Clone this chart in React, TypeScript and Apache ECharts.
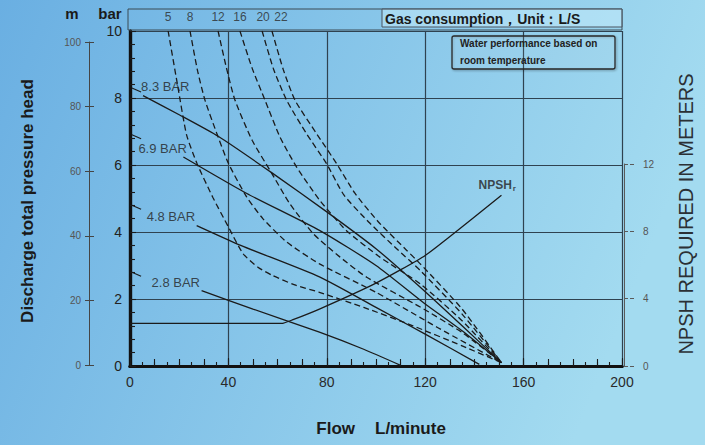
import React, { useEffect, useRef } from 'react';
import * as echarts from 'echarts';

// ---------- data ----------
const airLabels = ['5', '8', '12', '16', '20', '22'];
const pressureLabels = ['8.3 BAR', '6.9 BAR', '4.8 BAR', '2.8 BAR'];
const pressureValues = [8.3, 6.9, 4.8, 2.8];

// pressure curves: [flow L/min, head bar]
const p83 = [[5.3, 8.07], [20, 7.5], [36, 6.85], [58, 5.75], [80, 4.6], [100, 3.5], [118, 2.35], [135, 1.2], [151, 0.1]];
const p69 = [[21.7, 6.24], [47.5, 5.15], [77, 4.05], [100, 3.0], [120, 1.85], [135, 1.05], [151, 0.1]];
const p48 = [[27.1, 4.19], [45, 3.6], [77, 2.66], [100, 1.75], [120, 0.95], [142, 0.05]];
const p28 = [[29.1, 2.25], [50, 1.7], [77, 1.01], [95, 0.5], [110, 0.02]];

// air consumption curves (L/S): [flow L/min, head bar]
const air5 = [[15.5, 10], [19.3, 8.4], [23, 6.9], [27.2, 6.05], [33.7, 5.03], [40, 4.15], [46, 3.35], [52, 2.95], [58, 2.7], [67, 2.42], [77, 2.2], [95, 1.75], [115, 1.2], [135, 0.6], [151, 0.1]];
const air8 = [[24.4, 10], [27.5, 8.8], [30.5, 7.93], [35, 7.0], [40, 6.05], [47.4, 5.05], [54, 4.4], [63.7, 3.7], [77, 3.05], [100, 2.2], [125, 1.15], [151, 0.1]];
const air12 = [[35.8, 10], [39.2, 8.9], [42.7, 7.93], [49.7, 6.73], [57, 5.83], [65, 4.84], [74.5, 3.95], [85.4, 3.25], [96.2, 2.65], [118, 1.76], [135, 1.0], [151, 0.1]];
const air16 = [[44.7, 10], [49.6, 8.9], [54.9, 7.93], [61, 6.83], [67.8, 5.93], [77.2, 4.94], [88, 4.04], [101.6, 3.25], [118, 2.45], [135, 1.35], [151, 0.1]];
const air20 = [[53.7, 10], [58.4, 8.85], [63.7, 7.93], [71.8, 6.93], [79.9, 6.04], [87, 5.1], [97, 4.3], [108.4, 3.5], [118, 2.85], [135, 1.55], [151, 0.1]];
const air22 = [[57.7, 10], [62.3, 8.85], [67.1, 7.93], [75.9, 6.93], [84, 6.04], [91.5, 5.15], [101, 4.3], [112.5, 3.45], [118, 3.05], [135, 1.7], [151, 0.1]];

// NPSH required: [flow L/min, metres]
const npshR = [[0, 2.55], [62, 2.55], [66, 2.75], [77, 3.4], [100, 4.95], [120, 6.6], [151, 10.2]];

// ---------- styles ----------
const pressureLabelOffsets = [[-2, -9], [-45, -8], [-50, -9], [-50, -8]];
const airLabelOffsets = [[0, -14], [0, -14], [0, -14], [0, -14], [1, -14], [9, -14]];
const INK = '#1b1b1b';
const GRID = '#2f4250';
const NARROW = '"Liberation Sans Narrow", "Liberation Sans", Arial, sans-serif';
const SANS = '"Liberation Sans", Arial, sans-serif';

const pressureSeries = [p83, p69, p48, p28];
const airSeries = [air5, air8, air12, air16, air20, air22];

export default function App() {
  const ref = useRef<HTMLDivElement>(null);

  useEffect(() => {
    if (!ref.current) return;
    const chart = echarts.init(ref.current, undefined, { renderer: 'svg' });

    const series: any[] = [];
    pressureSeries.forEach((d, i) => {
      series.push({
        name: pressureLabels[i],
        type: 'line',
        data: d,
        xAxisIndex: 0,
        yAxisIndex: 0,
        symbol: 'none',
        smooth: 0.2,
        lineStyle: { color: INK, width: 1.3 },
        silent: true,
        z: 4,
      });
    });
    airSeries.forEach((d, i) => {
      series.push({
        name: airLabels[i] + ' L/S',
        type: 'line',
        data: d,
        xAxisIndex: 0,
        yAxisIndex: 0,
        symbol: 'none',
        smooth: 0.2,
        lineStyle: { color: INK, width: 1.3, type: [6, 3.5] },
        silent: true,
        z: 4,
      });
    });
    series.push({
      name: 'NPSHr',
      type: 'line',
      data: npshR,
      xAxisIndex: 0,
      yAxisIndex: 2,
      symbol: 'none',
      smooth: 0.15,
      lineStyle: { color: INK, width: 1.3 },
      silent: true,
      z: 4,
    });
    // short leaders at the left axis for the pressure labels
    pressureValues.forEach((p) => {
      series.push({
        type: 'line',
        data: [[0.8, p], [4.5, p - 0.12]],
        xAxisIndex: 0,
        yAxisIndex: 0,
        symbol: 'none',
        lineStyle: { color: INK, width: 1.1 },
        silent: true,
        z: 4,
      });
    });
    // pressure labels
    series.push({
      type: 'scatter',
      xAxisIndex: 0,
      yAxisIndex: 0,
      symbolSize: 0,
      clip: false,
      silent: true,
      data: pressureSeries.map((d, i) => ({ value: d[0], label: { offset: pressureLabelOffsets[i] } })),
      label: {
        show: true,
        position: 'inside',
        align: 'left',
        verticalAlign: 'middle',
        formatter: (p: any) => pressureLabels[p.dataIndex],
        fontFamily: NARROW,
        fontSize: 13,
        color: '#222',
      },
      z: 5,
    });
    // air consumption labels on top strip
    series.push({
      type: 'scatter',
      xAxisIndex: 0,
      yAxisIndex: 0,
      symbolSize: 0,
      clip: false,
      silent: true,
      data: airSeries.map((d, i) => ({ value: d[0], label: { offset: airLabelOffsets[i] } })),
      label: {
        show: true,
        position: 'inside',
        align: 'center',
        verticalAlign: 'middle',
        formatter: (p: any) => airLabels[p.dataIndex],
        fontFamily: NARROW,
        fontSize: 12,
        color: '#2a2a2a',
      },
      z: 5,
    });
    // NPSHr label
    series.push({
      type: 'scatter',
      xAxisIndex: 0,
      yAxisIndex: 2,
      symbolSize: 0,
      clip: false,
      silent: true,
      data: [{ value: npshR[npshR.length - 1], label: { offset: [-23, -10] } }],
      label: {
        show: true,
        position: 'inside',
        align: 'left',
        verticalAlign: 'middle',
        formatter: '{a|NPSH}{b|r}',
        rich: {
          a: { fontFamily: NARROW, fontWeight: 'bold', fontSize: 12, color: '#222' },
          b: { fontFamily: NARROW, fontWeight: 'bold', fontSize: 8, color: '#222', padding: [6, 0, 0, 1] },
        },
      },
      z: 5,
    });

    const thick = { show: true, lineStyle: { color: '#111', width: 3.2 } };

    chart.setOption({
      animation: false,
      backgroundColor: new echarts.graphic.LinearGradient(0, 0, 1, 0.25, [
        { offset: 0, color: '#6aafe2' },
        { offset: 1, color: '#a3dbf0' },
      ]),
      grid: [
        { left: 130, top: 31, width: 492, height: 335 },
        { left: 89, top: 42, width: 10, height: 323 },
        { left: 624, top: 164, width: 10, height: 202 },
      ],
      xAxis: [
        {
          gridIndex: 0, type: 'value', position: 'bottom', min: 0, max: 200, interval: 40,
          axisLine: thick,
          axisTick: { show: true, inside: true, length: 8, lineStyle: { color: INK, width: 1.1 } },
          minorTick: { show: true, splitNumber: 8, length: 4, lineStyle: { color: INK, width: 1.1 } },
          axisLabel: { fontFamily: SANS, fontSize: 14, color: '#2a2a2a', margin: 9 },
          splitLine: { show: true, lineStyle: { color: GRID, width: 1.2 } },
        },
        {
          gridIndex: 0, type: 'value', position: 'top', min: 0, max: 200,
          axisLine: thick, axisTick: { show: false }, axisLabel: { show: false }, splitLine: { show: false },
        },
        {
          gridIndex: 0, type: 'value', position: 'bottom', min: 0, max: 200, interval: 10,
          axisLine: { show: false },
          axisTick: { show: true, inside: true, length: 7, lineStyle: { color: INK, width: 1.1 } },
          axisLabel: { show: false }, splitLine: { show: false },
        },
        { gridIndex: 1, type: 'value', show: false, min: 0, max: 1 },
        { gridIndex: 2, type: 'value', show: false, min: 0, max: 1 },
      ],
      yAxis: [
        {
          gridIndex: 0, type: 'value', position: 'left', min: 0, max: 10, interval: 2,
          axisLine: thick,
          axisTick: { show: true, inside: true, length: 6, lineStyle: { color: INK, width: 1.1 } },
          minorTick: { show: true, splitNumber: 5, length: 5, lineStyle: { color: INK, width: 1.1 } },
          axisLabel: { fontFamily: SANS, fontSize: 14, color: '#222', margin: 8 },
          splitLine: { show: true, lineStyle: { color: GRID, width: 1.2 } },
        },
        {
          gridIndex: 0, type: 'value', position: 'right', min: 0, max: 10,
          axisLine: thick, axisTick: { show: false }, axisLabel: { show: false }, splitLine: { show: false },
        },
        { gridIndex: 0, type: 'value', position: 'right', min: 0, max: 20, show: false },
        {
          gridIndex: 1, type: 'value', position: 'left', min: 0, max: 100, interval: 20,
          axisLine: { show: true, lineStyle: { color: '#454545', width: 1 } },
          axisTick: { show: true, length: 4, lineStyle: { color: '#454545', width: 1 } },
          axisLabel: { fontFamily: SANS, fontSize: 10, color: '#555', margin: 8 },
          splitLine: { show: false },
        },
        {
          gridIndex: 1, type: 'value', position: 'left', min: 0, max: 100, interval: 20,
          axisLine: { show: false },
          axisTick: { show: true, inside: true, length: 5, lineStyle: { color: '#454545', width: 1 } },
          axisLabel: { show: false }, splitLine: { show: false },
        },
        {
          gridIndex: 2, type: 'value', position: 'right', min: 0, max: 12, interval: 4,
          axisLine: { show: true, lineStyle: { color: '#5a5a5a', width: 1 } },
          axisTick: { show: true, length: 4, lineStyle: { color: '#5a5a5a', width: 1 } },
          axisLabel: { fontFamily: SANS, fontSize: 10, color: '#555', margin: 9 },
          splitLine: { show: false },
        },
        {
          gridIndex: 2, type: 'value', position: 'right', min: 0, max: 12, interval: 4,
          axisLine: { show: false },
          axisTick: { show: true, inside: true, length: 4, lineStyle: { color: '#5a5a5a', width: 1 } },
          axisLabel: { show: false }, splitLine: { show: false },
        },
      ],
      graphic: [
        { type: 'rect', shape: { x: 128, y: 9, width: 494, height: 21 }, style: { fill: 'none', stroke: '#3b4a55', lineWidth: 1 }, z: 1 },
        { type: 'rect', shape: { x: 382, y: 9, width: 240, height: 18 }, style: { fill: 'rgba(205,240,252,0.45)', stroke: '#4a5560', lineWidth: 1 }, z: 1 },
        { type: 'text', x: 385, y: 18.5, style: { text: 'Gas consumption，Unit：L/S', font: 'bold 14px "Liberation Sans", Arial, sans-serif', fill: '#1a1a1a', verticalAlign: 'middle' }, z: 2 },
        { type: 'rect', shape: { x: 452, y: 36, width: 163, height: 33, r: 2 }, style: { fill: 'rgba(255,255,255,0.05)', stroke: '#2a2a2a', lineWidth: 1.3, shadowBlur: 2, shadowColor: 'rgba(0,0,0,0.35)', shadowOffsetX: 1, shadowOffsetY: 1 }, z: 6 },
        { type: 'text', x: 460, y: 43.5, style: { text: 'Water performance based on', font: 'bold 10px "Liberation Sans", Arial, sans-serif', fill: '#222', verticalAlign: 'middle' }, z: 7 },
        { type: 'text', x: 460, y: 60, style: { text: 'room temperature', font: 'bold 10px "Liberation Sans", Arial, sans-serif', fill: '#222', verticalAlign: 'middle' }, z: 7 },
        { type: 'text', x: 72, y: 13, style: { text: 'm', font: 'bold 15px "Liberation Sans", Arial, sans-serif', fill: '#1a1a1a', align: 'center', verticalAlign: 'middle' } },
        { type: 'text', x: 110, y: 13, style: { text: 'bar', font: 'bold 15px "Liberation Sans", Arial, sans-serif', fill: '#1a1a1a', align: 'center', verticalAlign: 'middle' } },
        { type: 'text', x: 27, y: 201, rotation: Math.PI / 2, style: { text: 'Discharge total pressure head', font: 'bold 17px "Liberation Sans", Arial, sans-serif', fill: '#1a1a1a', align: 'center', verticalAlign: 'middle' } },
        { type: 'text', x: 686, y: 214, rotation: Math.PI / 2, style: { text: 'NPSH REQUIRED IN METERS', font: '20px "Liberation Sans", Arial, sans-serif', fill: '#2b3035', align: 'center', verticalAlign: 'middle' } },
        { type: 'text', x: 355, y: 428, style: { text: 'Flow', font: 'bold 17px "Liberation Sans", Arial, sans-serif', fill: '#1a1a1a', align: 'right', verticalAlign: 'middle' } },
        { type: 'text', x: 375, y: 428, style: { text: 'L/minute', font: 'bold 17px "Liberation Sans", Arial, sans-serif', fill: '#1a1a1a', align: 'left', verticalAlign: 'middle' } },
      ],
      series,
    });

    return () => chart.dispose();
  }, []);

  return <div ref={ref} style={{ position: 'absolute', left: 0, top: 0, width: 705, height: 445 }} />;
}
